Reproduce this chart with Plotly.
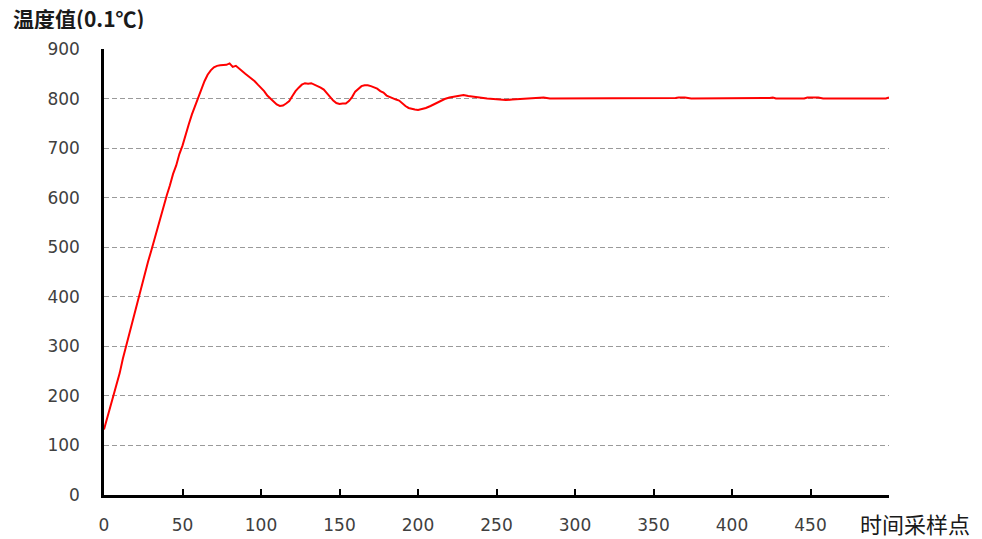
import plotly.graph_objects as go

sample_idx = [0, 2, 4, 6, 8, 10, 12, 14, 16, 18, 20, 22, 24, 26, 28, 30, 32, 34, 36, 38,
              40, 42, 44, 46, 48, 50, 52, 54, 56, 58, 60, 62, 64, 66, 68, 70, 72, 74, 76, 78,
              80, 82, 84, 86, 88, 90, 92, 94, 96, 98, 100, 102, 104, 106, 108, 110, 112, 114, 116, 118,
              120, 122, 124, 126, 128, 130, 132, 134, 136, 138, 140, 142, 144, 146, 148, 150, 152, 154, 156, 158,
              160, 162, 164, 166, 168, 170, 172, 174, 176, 178, 180, 182, 184, 186, 188, 190, 192, 194, 196, 198,
              200, 202, 205, 208, 211, 214, 217, 220, 223, 226, 229, 232, 236, 240, 244, 248, 252, 256, 260, 264,
              268, 272, 276, 280, 284, 290, 300, 320, 340, 360, 364, 366, 370, 374, 390, 410, 418, 420, 422, 424,
              426, 428, 432, 446, 448, 455, 458, 470, 480, 482, 484, 486, 488, 492, 494, 496, 498, 500]

temperature = [132, 155, 175, 200, 226, 246, 275, 300, 322, 350, 374, 400, 422, 448, 470, 492, 515, 540, 560, 585,
               605, 625, 648, 665, 688, 705, 728, 748, 768, 785, 800, 818, 835, 848, 857, 863, 866, 867, 867, 868,
               871, 864, 866, 860, 855, 850, 845, 840, 835, 828, 822, 815, 806, 800, 793, 788, 785, 786, 790, 795,
               805, 815, 822, 828, 831, 830, 831, 828, 826, 822, 818, 810, 803, 796, 791, 789, 790, 790, 795, 803,
               814, 820, 825, 827, 827, 825, 823, 820, 815, 812, 806, 803, 801, 798, 796, 790, 785, 781, 779, 778,
               777, 778, 781, 785, 790, 795, 799, 802, 804, 806, 807, 805, 803, 802, 800, 799, 798, 797, 798, 799,
               799, 800, 802, 802, 800, 800, 800, 800, 800, 800, 801, 802, 802, 800, 800, 800, 800, 801, 800, 801,
               802, 800, 800, 800, 802, 802, 800, 800, 800, 801, 800, 801, 800, 801, 800, 801, 800, 802]

x_ticks = [0, 50, 100, 150, 200, 250, 300, 350, 400, 450, 500]
x_tick_labels = ["0", "50", "100", "150", "200", "250", "300", "350", "400", "450", ""]
y_ticks = [0, 100, 200, 300, 400, 500, 600, 700, 800, 900]
y_title = "温度值(0.1℃)"
x_title = "时间采样点"

fig = go.Figure()
fig.add_trace(go.Scatter(x=sample_idx, y=temperature, mode="lines",
                         line=dict(color="#ff0000", width=2), showlegend=False))

font_num = dict(family="DejaVu Sans, sans-serif", size=17, color="#404040")
fig.update_layout(
    width=982, height=539,
    margin=dict(l=96, r=101, t=41, b=48),
    paper_bgcolor="white", plot_bgcolor="white",
    xaxis=dict(range=[0, 500], tickvals=x_ticks, ticktext=x_tick_labels,
               showgrid=False, zeroline=False,
               showline=True, linecolor="black", linewidth=2.5,
               ticks="inside", ticklen=6, tickwidth=2, tickcolor="black",
               tickfont=font_num, ticklabelstandoff=13),
    yaxis=dict(range=[0, 900], tickvals=y_ticks, showgrid=True, gridcolor="#9a9a9a",
               griddash="5px,3px", gridwidth=1, zeroline=False,
               showline=True, linecolor="black", linewidth=2.5, ticks="",
               tickfont=font_num, ticklabelstandoff=18),
    annotations=[
        dict(text=y_title, xref="paper", yref="paper", x=-0.119, y=1.07,
             xanchor="left", yanchor="middle", showarrow=False, height=22,
             font=dict(family="Noto Sans CJK SC", size=21, color="#1a1a1a", weight="bold")),
        dict(text=x_title, xref="paper", yref="paper", x=1.033, y=-0.062,
             xanchor="center", yanchor="middle", showarrow=False,
             font=dict(family="Noto Sans CJK SC", size=22, color="#1a1a1a")),
    ],
)
fig.write_html("out.html")
